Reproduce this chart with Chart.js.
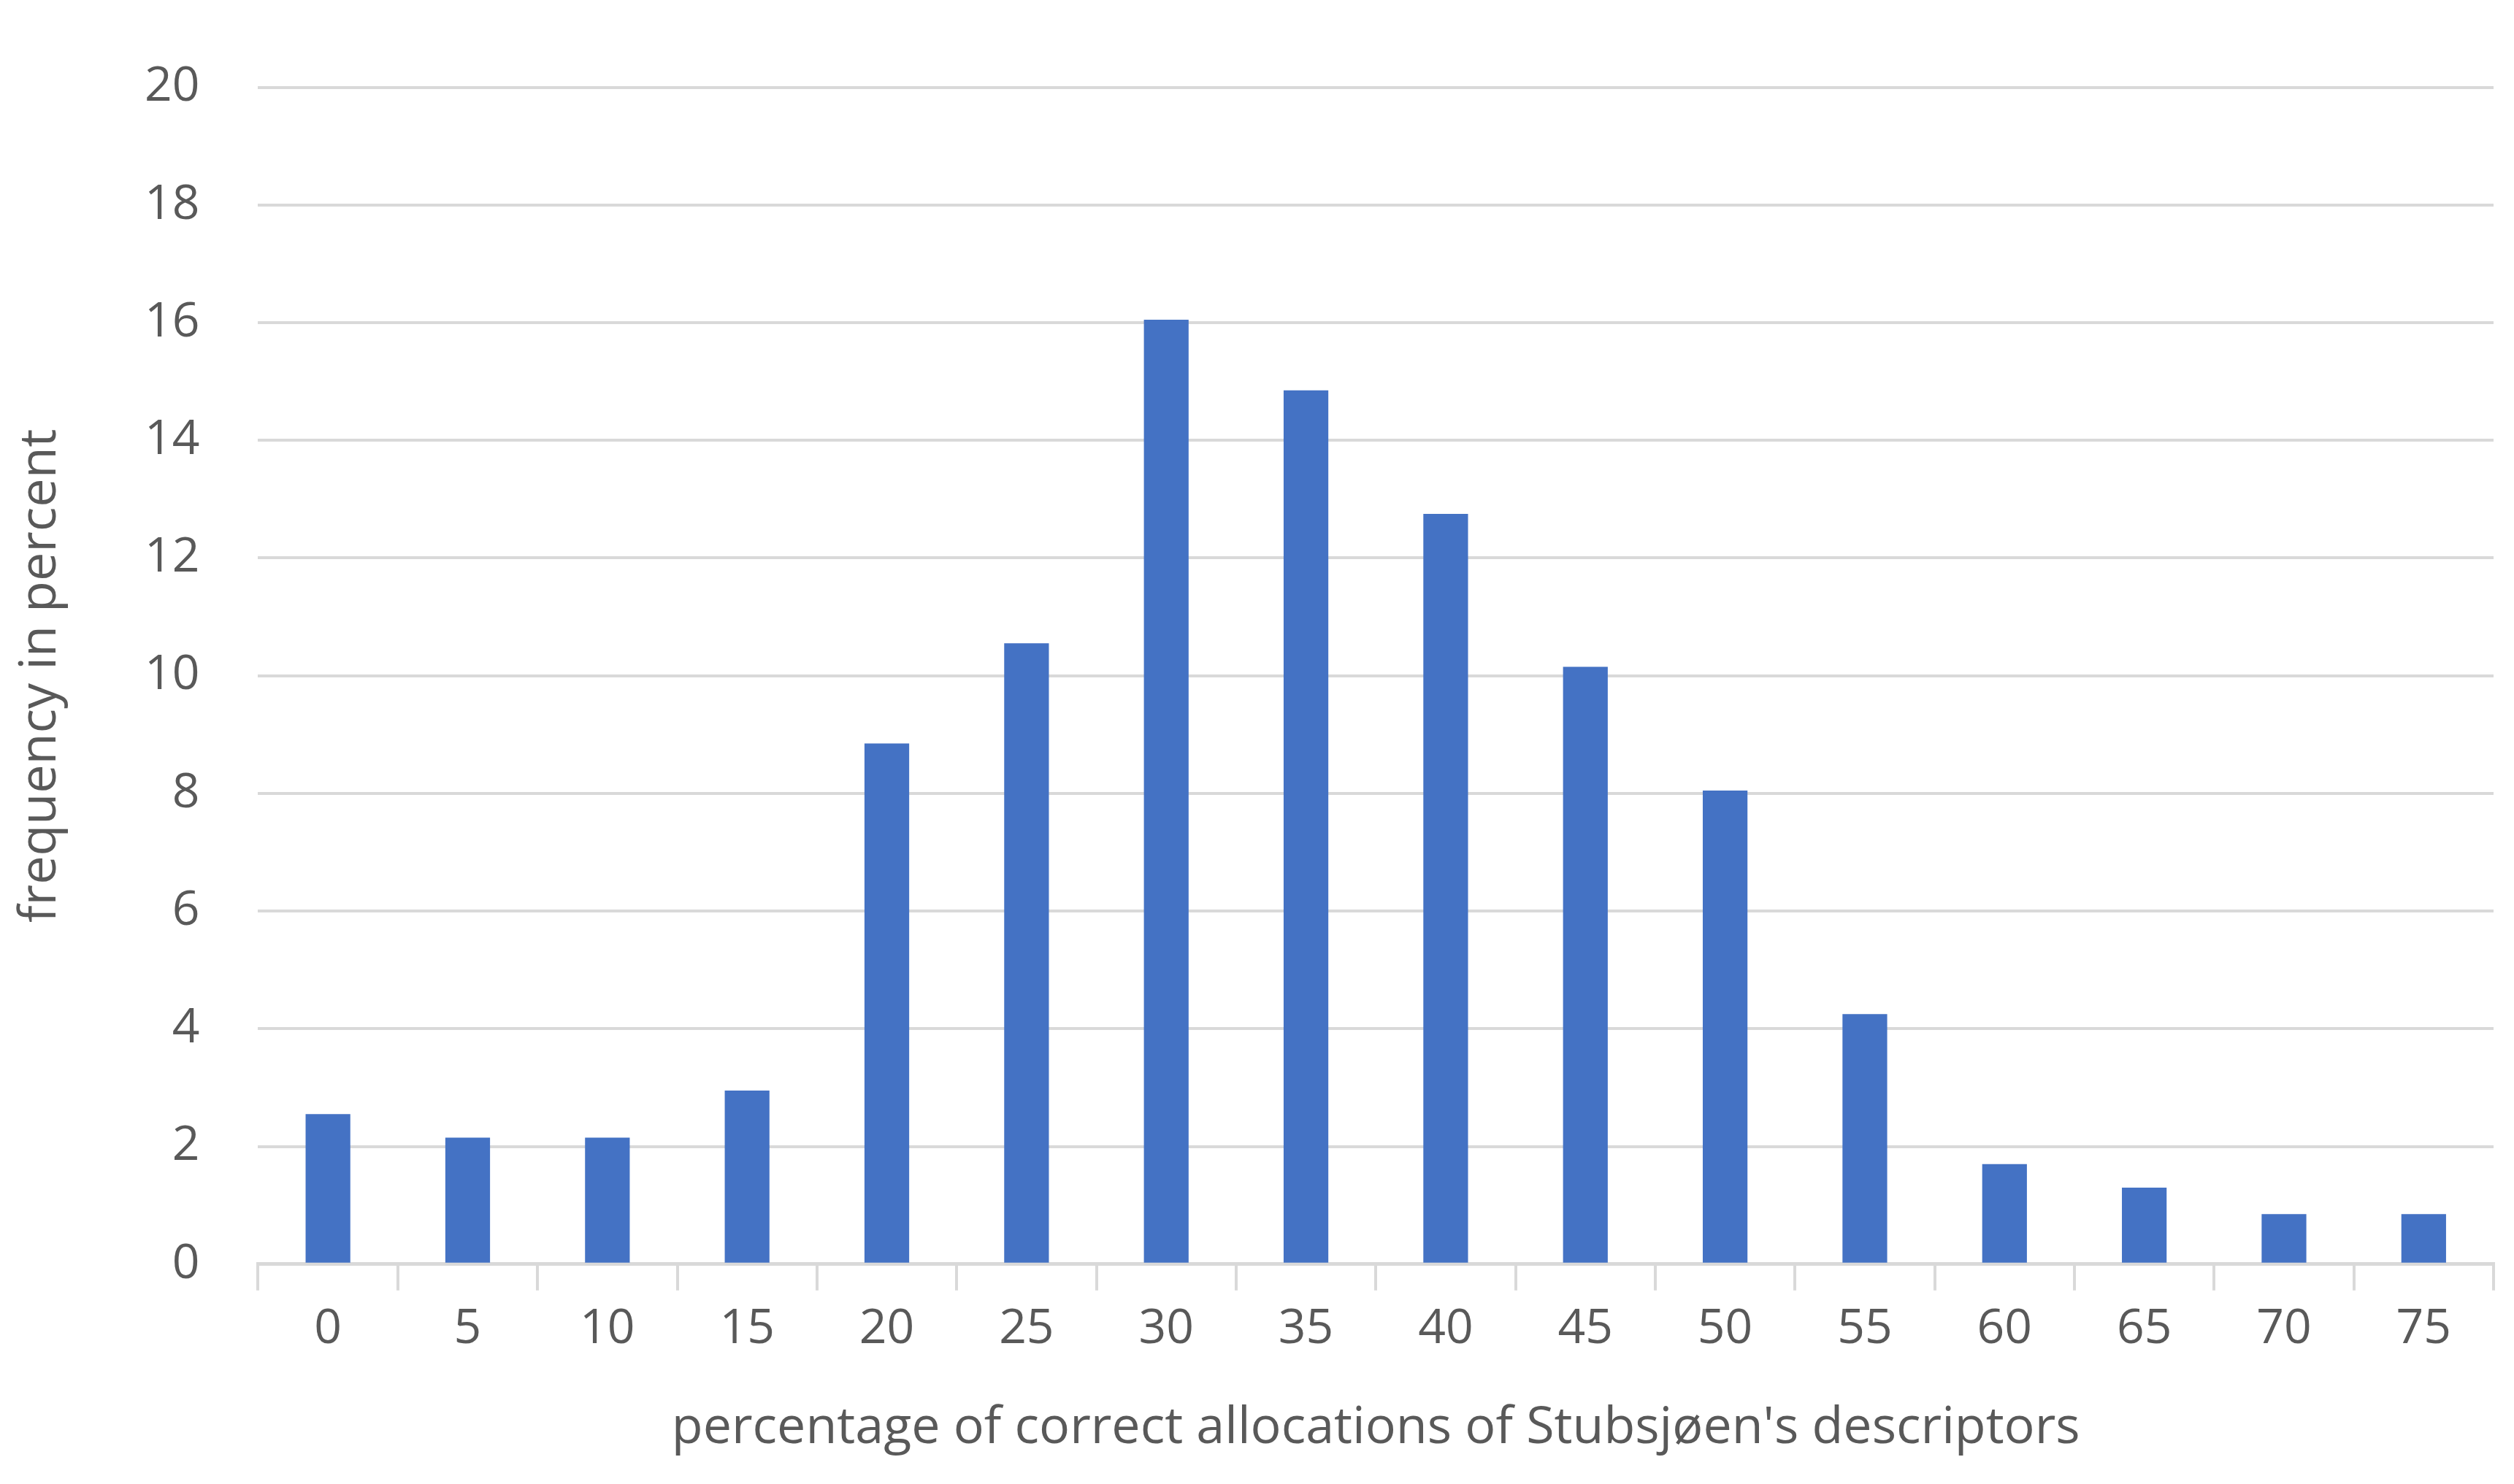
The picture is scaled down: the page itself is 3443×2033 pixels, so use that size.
<!DOCTYPE html>
<html>
<head>
<meta charset="utf-8">
<script src="https://cdn.jsdelivr.net/npm/chart.js@4"></script>
<style>
  html, body { margin: 0; padding: 0; background: #fff; }
  #wrap { width: 3443px; height: 2033px; }
</style>
</head>
<body>
<div id="wrap"><canvas id="c"></canvas></div>
<script>
// categories and values
const categories = ['0', '5', '10', '15', '20', '25', '30', '35', '40', '45', '50', '55', '60', '65', '70', '75'];
const frequency = [2.55, 2.15, 2.15, 2.95, 8.85, 10.55, 16.05, 14.85, 12.75, 10.15, 8.05, 4.25, 1.7, 1.3, 0.85, 0.85];
const yTicks = [0, 2, 4, 6, 8, 10, 12, 14, 16, 18, 20];

const txt = '#595959';
const fam = '"Open Sans", "Noto Sans", sans-serif';

new Chart(document.getElementById('c'), {
  type: 'bar',
  data: {
    labels: categories,
    datasets: [{
      data: frequency,
      backgroundColor: '#4472c4',
      barPercentage: 0.32,
      categoryPercentage: 1
    }]
  },
  options: {
    responsive: true,
    maintainAspectRatio: false,
    animation: false,
    devicePixelRatio: 1,
    layout: { padding: { left: 10, right: 28, top: 30, bottom: 30 } },
    plugins: { legend: { display: false }, tooltip: { enabled: false } },
    scales: {
      x: {
        grid: { offset: true, color: '#d9d9d9', lineWidth: 4, drawOnChartArea: false, tickLength: 36 },
        border: { color: '#d9d9d9', width: 5 },
        ticks: { color: txt, font: { family: fam, size: 66 }, padding: 14 },
        title: { display: true, text: "percentage of correct allocations of Stubsjøen's descriptors",
                 color: txt, font: { family: fam, size: 70 }, padding: { top: 40 } }
      },
      y: {
        min: 0, max: 20,
        afterBuildTicks: (s) => { s.ticks = yTicks.map(v => ({ value: v })); },
        grid: { color: '#d9d9d9', lineWidth: 4, drawTicks: false },
        border: { display: false },
        ticks: { color: txt, font: { family: fam, size: 66 }, padding: 80 },
        title: { display: true, text: 'frequency in percent', color: txt,
                 font: { family: fam, size: 70 }, padding: { bottom: 20 } }
      }
    }
  }
});
</script>
</body>
</html>
